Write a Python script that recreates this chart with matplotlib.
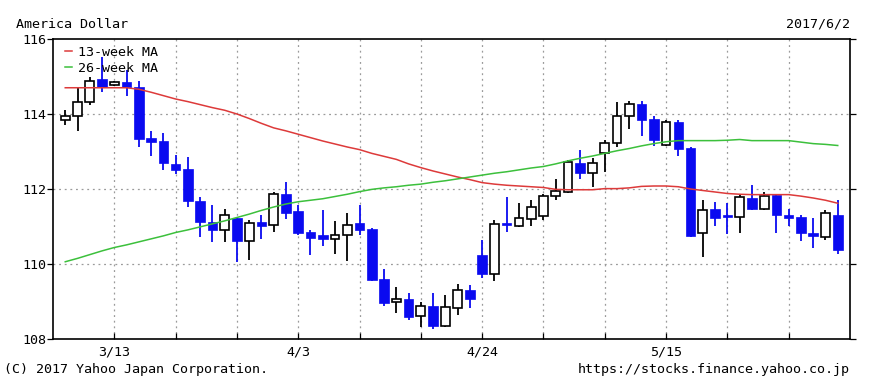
#!/usr/bin/env python3
import matplotlib

matplotlib.use("Agg")
import matplotlib.pyplot as plt
import numpy as np

# daily USD/JPY candles, 2017/3/7 .. 2017/6/2 (weekdays)
opens = [
    113.84, 113.96, 114.33, 114.93,
    114.78, 114.85, 114.71, 113.36, 113.29,
    112.67, 112.53, 111.67, 111.13, 110.92,
    111.22, 110.62, 111.11, 111.03, 111.88,
    111.40, 110.86, 110.76, 110.66, 110.77,
    111.10, 110.92, 109.61, 108.98, 109.07,
    108.62, 108.89, 108.36, 108.84, 109.32,
    110.24, 109.73, 111.08, 111.01, 111.20,
    111.28, 111.81, 111.93, 112.70, 112.42,
    112.95, 113.24, 113.96, 114.28, 113.86,
    113.17, 113.78, 113.10, 110.82, 111.46,
    111.28, 111.26, 111.76, 111.46, 111.83,
    111.29, 111.24, 110.82, 110.73, 111.32,
]
highs = [
    114.12, 114.73, 115.00, 115.51,
    114.89, 115.17, 114.89, 113.56, 113.50,
    112.92, 112.86, 111.80, 111.57, 111.46,
    111.26, 111.17, 111.32, 111.93, 112.18,
    111.57, 110.92, 111.44, 111.15, 111.35,
    111.57, 110.95, 109.86, 109.40, 109.22,
    109.00, 109.22, 109.17, 109.47, 109.44,
    110.64, 111.17, 111.80, 111.62, 111.71,
    111.87, 112.28, 112.77, 113.04, 112.82,
    113.31, 114.33, 114.35, 114.35, 113.95,
    113.84, 113.84, 113.13, 111.71, 111.66,
    111.62, 111.84, 112.11, 111.91, 111.87,
    111.46, 111.31, 111.22, 111.44, 111.71,
]
lows = [
    113.70, 113.56, 114.24, 114.58,
    114.75, 114.49, 113.13, 112.88, 112.51,
    112.40, 111.51, 110.71, 110.60, 110.60,
    110.06, 110.11, 110.66, 110.86, 111.19,
    110.77, 110.24, 110.48, 110.27, 110.09,
    110.77, 109.56, 108.88, 108.68, 108.51,
    108.33, 108.26, 108.33, 108.64, 108.84,
    109.62, 109.56, 110.86, 110.98, 111.01,
    111.17, 111.72, 111.90, 112.26, 112.06,
    112.45, 113.11, 113.59, 113.41, 113.16,
    113.15, 112.88, 110.73, 110.20, 111.01,
    110.80, 110.84, 111.44, 111.44, 110.84,
    111.01, 110.62, 110.44, 110.64, 110.28,
]
closes = [
    113.95, 114.31, 114.89, 114.73,
    114.85, 114.71, 113.34, 113.26, 112.70,
    112.52, 111.69, 111.12, 110.91, 111.31,
    110.62, 111.10, 111.02, 111.88, 111.37,
    110.82, 110.69, 110.66, 110.78, 111.03,
    110.91, 109.57, 108.97, 109.07, 108.58,
    108.88, 108.36, 108.84, 109.32, 109.06,
    109.73, 111.06, 111.03, 111.22, 111.53,
    111.81, 111.96, 112.71, 112.44, 112.70,
    113.22, 113.96, 114.27, 113.84, 113.31,
    113.78, 113.08, 110.75, 111.44, 111.24,
    111.25, 111.78, 111.48, 111.82, 111.31,
    111.24, 110.82, 110.75, 111.35, 110.37,
]
ma13 = [
    114.70, 114.70, 114.70, 114.70, 114.70, 114.70, 114.66, 114.58,
    114.49, 114.40, 114.33, 114.25, 114.17, 114.10, 114.00, 113.88,
    113.75, 113.63, 113.55, 113.46, 113.37, 113.28, 113.20, 113.12,
    113.05, 112.95, 112.87, 112.79, 112.67, 112.57, 112.48, 112.40,
    112.32, 112.25, 112.17, 112.13, 112.10, 112.08, 112.06, 112.04,
    111.99, 111.98, 111.98, 111.98, 112.01, 112.01, 112.03, 112.07,
    112.08, 112.08, 112.06, 112.00, 111.96, 111.92, 111.88, 111.86,
    111.85, 111.85, 111.85, 111.85, 111.81, 111.76, 111.70, 111.62,
]
ma26 = [
    110.06, 110.15, 110.25, 110.35, 110.44, 110.51, 110.59, 110.67,
    110.75, 110.84, 110.91, 110.99, 111.07, 111.15, 111.24, 111.33,
    111.43, 111.52, 111.60, 111.66, 111.70, 111.74, 111.80, 111.86,
    111.93, 111.99, 112.03, 112.06, 112.10, 112.13, 112.18, 112.22,
    112.27, 112.32, 112.37, 112.42, 112.46, 112.51, 112.56, 112.60,
    112.67, 112.75, 112.82, 112.88, 112.95, 113.02, 113.08, 113.15,
    113.21, 113.26, 113.29, 113.29, 113.29, 113.29, 113.30, 113.32,
    113.29, 113.29, 113.29, 113.29, 113.25, 113.21, 113.19, 113.16,
]
# weekday index counted from Monday 2017/3/6
week_ticks = [5, 10, 15, 20, 25, 30, 35, 40, 45, 50, 55, 60]
label_ticks = [5, 20, 35, 50]
label_text = ["3/13", "4/3", "4/24", "5/15"]

UP_EDGE = "black"
DOWN = "#0a0af0"
FONT = "DejaVu Sans Mono"
FS = 9.6

plt.rcParams["font.family"] = FONT
plt.rcParams["font.size"] = FS

fig = plt.figure(figsize=(8.7, 3.89), dpi=100)
ax = fig.add_axes([53 / 870, 1 - 339 / 389, 797 / 870, 300 / 389])

x = np.arange(1, len(opens) + 1)
o = np.array(opens)
c = np.array(closes)
up = c >= o

# wicks
ax.vlines(x[up], np.array(lows)[up], np.array(highs)[up], color="black", lw=1.3, zorder=3)
ax.vlines(x[~up], np.array(lows)[~up], np.array(highs)[~up], color=DOWN, lw=1.3, zorder=3)

# bodies (keep very small bodies visible)
bottom = np.minimum(o, c)
height = np.maximum(np.abs(c - o), 0.07)
ax.bar(x[up], height[up], bottom=bottom[up], width=0.72, facecolor="white",
       edgecolor=UP_EDGE, linewidth=1.2, zorder=4)
ax.bar(x[~up], height[~up], bottom=bottom[~up], width=0.78, facecolor=DOWN,
       edgecolor=DOWN, linewidth=0.5, zorder=4)

ax.plot(x, ma13, color="#dd3a3a", lw=1.1, label="13-week MA", zorder=5)
ax.plot(x, ma26, color="#3cc03c", lw=1.1, label="26-week MA", zorder=5)

ax.set_xlim(0, 65)
ax.set_ylim(108, 116)
ax.set_yticks([108, 110, 112, 114, 116])
ax.set_xticks(week_ticks)
ax.set_xticklabels(["" if t not in label_ticks else label_text[label_ticks.index(t)]
                    for t in week_ticks])

for t in week_ticks:
    ax.axvline(t, color="#9a9a9a", lw=0.9, ls=(0, (1.5, 3)), zorder=1)
for v in [110, 112, 114]:
    ax.axhline(v, color="#9a9a9a", lw=0.9, ls=(0, (1.5, 3)), zorder=1)

ax.tick_params(axis="x", direction="in", length=4, width=0.9, pad=5, labelsize=FS)
ax.tick_params(axis="y", direction="out", length=4, width=0.9, pad=1, labelsize=FS,
               right=True)
for side in ax.spines.values():
    side.set_linewidth(1.2)
    side.set_color("black")

ax.legend(loc="upper left", bbox_to_anchor=(12 / 797, 1 - 7 / 300), frameon=False,
          handlelength=0.55, handletextpad=0.45, borderpad=0, borderaxespad=0,
          labelspacing=0.2, fontsize=FS)

fig.text(16 / 870, 1 - 24 / 389, "America Dollar", ha="left", va="center")
fig.text(850 / 870, 1 - 24 / 389, "2017/6/2", ha="right", va="center")
fig.text(4 / 870, 1 - 370 / 389, "(C) 2017 Yahoo Japan Corporation.", ha="left", va="center")
fig.text(850 / 870, 1 - 370 / 389, "https://stocks.finance.yahoo.co.jp", ha="right", va="center")

fig.savefig("out.png", dpi=100)
